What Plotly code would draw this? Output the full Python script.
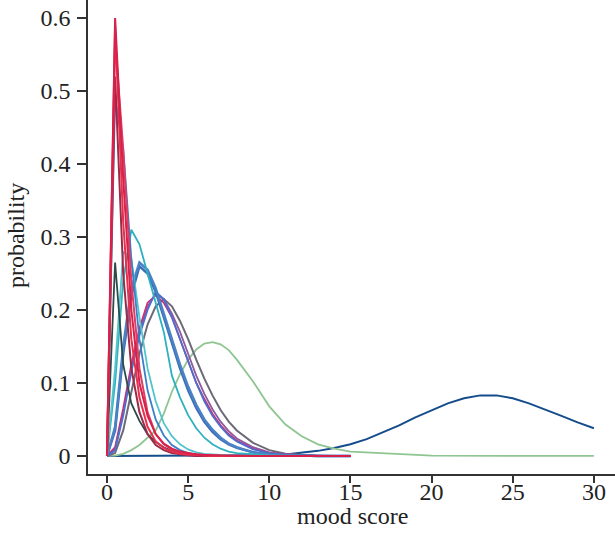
import plotly.graph_objects as go

# shared x grid for the short-range curves
xs = [0, 0.5, 1, 1.5, 2, 2.5, 3, 3.5, 4, 4.5, 5, 5.5, 6, 6.5, 7, 7.5, 8,
      9, 10, 11, 12, 13, 14, 15]
xs_green = xs + [20, 30]

# long-range curve (own grid)
xs_navy = list(range(0, 31))
navy = [0, 0, 0, 0, 0, 0, 0, 0, 0.0002, 0.0005, 0.001, 0.002, 0.004, 0.007,
        0.011, 0.016, 0.023, 0.032, 0.042, 0.053, 0.063, 0.072, 0.079, 0.083,
        0.083, 0.079, 0.072, 0.064, 0.055, 0.046, 0.038]

green = [0, 0.0005, 0.003, 0.008, 0.015, 0.025, 0.035, 0.058, 0.088, 0.112,
         0.132, 0.146, 0.154, 0.156, 0.153, 0.145, 0.132, 0.102, 0.068, 0.043,
         0.027, 0.016, 0.010, 0.006, 0.0005, 0]
gray = [0, 0.004, 0.035, 0.09, 0.14, 0.18, 0.205, 0.215, 0.205, 0.185, 0.16,
        0.132, 0.106, 0.083, 0.063, 0.047, 0.035, 0.018, 0.008, 0.003, 0.001,
        0, 0, 0]
purple = [0, 0.01, 0.06, 0.12, 0.17, 0.205, 0.222, 0.215, 0.195, 0.17, 0.14,
          0.11, 0.085, 0.064, 0.047, 0.034, 0.024, 0.012, 0.005, 0.002, 0.001,
          0, 0, 0]
magenta = [0, 0.012, 0.065, 0.125, 0.175, 0.21, 0.22, 0.21, 0.19, 0.16, 0.13,
           0.10, 0.078, 0.058, 0.042, 0.030, 0.021, 0.010, 0.004, 0.002, 0.001,
           0, 0, 0]
blue_d = [0, 0.008, 0.055, 0.115, 0.165, 0.20, 0.225, 0.215, 0.19, 0.16, 0.13,
          0.10, 0.075, 0.055, 0.040, 0.028, 0.020, 0.009, 0.004, 0.001, 0,
          0, 0, 0]
blue_b = [0, 0.04, 0.15, 0.23, 0.265, 0.255, 0.23, 0.195, 0.16, 0.125, 0.095,
          0.07, 0.05, 0.036, 0.025, 0.017, 0.012, 0.005, 0.002, 0.001, 0,
          0, 0, 0]
blue_c = [0, 0.035, 0.14, 0.22, 0.26, 0.25, 0.225, 0.19, 0.155, 0.12, 0.09,
          0.066, 0.047, 0.033, 0.023, 0.016, 0.011, 0.005, 0.002, 0.001, 0,
          0, 0, 0]
cyan_a = [0, 0.10, 0.24, 0.31, 0.29, 0.25, 0.21, 0.17, 0.11, 0.08, 0.056,
          0.038, 0.025, 0.016, 0.010, 0.006, 0.004, 0.002, 0.001, 0, 0,
          0, 0, 0]
cyan_b = [0, 0.12, 0.28, 0.27, 0.19, 0.12, 0.075, 0.045, 0.027, 0.016, 0.009,
          0.005, 0.003, 0.002, 0.001, 0, 0, 0, 0, 0, 0, 0, 0, 0]
blue_a = [0, 0.49, 0.42, 0.27, 0.16, 0.09, 0.05, 0.028, 0.015, 0.008, 0.004,
          0.002, 0.001, 0, 0, 0, 0, 0, 0, 0, 0, 0, 0, 0]
dark = [0, 0.265, 0.125, 0.072, 0.048, 0.030, 0.019, 0.012, 0.007, 0.004,
        0.002, 0.001, 0, 0, 0, 0, 0, 0, 0, 0, 0, 0, 0, 0]
maroon = [0, 0.52, 0.25, 0.12, 0.06, 0.03, 0.015, 0.008, 0.004, 0.002, 0.001,
          0, 0, 0, 0, 0, 0, 0, 0, 0, 0, 0, 0, 0]
red_c = [0, 0.57, 0.42, 0.24, 0.12, 0.06, 0.03, 0.016, 0.009, 0.005, 0.003,
         0.002, 0.001, 0, 0, 0, 0, 0, 0, 0, 0, 0, 0, 0]
red_b = [0, 0.59, 0.32, 0.16, 0.08, 0.04, 0.02, 0.011, 0.006, 0.003, 0.002,
         0.001, 0, 0, 0, 0, 0, 0, 0, 0, 0, 0, 0, 0]
red_a = [0, 0.60, 0.38, 0.20, 0.10, 0.055, 0.03, 0.017, 0.010, 0.006, 0.004,
         0.002, 0.0015, 0.001, 0.0006, 0.0004, 0.0003, 0.0001, 0, 0, 0,
         0, 0, 0]

x_ticks = [0, 5, 10, 15, 20, 25, 30]
y_ticks = [0, 0.1, 0.2, 0.3, 0.4, 0.5, 0.6]
y_ticktext = ["0", "0.1", "0.2", "0.3", "0.4", "0.5", "0.6"]

# (name, y values, colour, width) in drawing order
curves = [
    ("gray", gray, "#6d6a78", 2),
    ("purple", purple, "#8a5c9e", 1.8),
    ("magenta", magenta, "#c7337c", 1.8),
    ("blue_d", blue_d, "#4a6fcf", 1.8),
    ("blue_c", blue_c, "#3d6fb8", 2.5),
    ("blue_b", blue_b, "#4a82c6", 2.5),
    ("cyan_a", cyan_a, "#2eb1bf", 1.8),
    ("cyan_b", cyan_b, "#52c4cc", 1.8),
    ("blue_a", blue_a, "#3a7fc8", 1.8),
    ("dark", dark, "#2f4a4c", 1.8),
    ("maroon", maroon, "#9c2a4a", 2),
    ("red_c", red_c, "#dc3f66", 2),
    ("red_b", red_b, "#e8304c", 2),
    ("red_a", red_a, "#d8204a", 2),
]

fig = go.Figure()
fig.add_trace(go.Scatter(x=xs_navy, y=navy, mode="lines",
                         line=dict(color="#154c8c", width=2)))
fig.add_trace(go.Scatter(x=xs_green, y=green, mode="lines",
                         line=dict(color="#8fc591", width=1.8)))
for name, ys, color, w in curves:
    fig.add_trace(go.Scatter(x=xs, y=ys, mode="lines", name=name,
                             line=dict(color=color, width=w)))

axis_font = dict(family="Liberation Serif", size=24, color="#222")

fig.update_layout(
    width=615, height=542,
    margin=dict(l=88, r=0, t=0, b=68),
    plot_bgcolor="white", paper_bgcolor="white",
    showlegend=False,
    font=axis_font,
)
fig.update_xaxes(
    range=[-1.17, 31.3], tickvals=x_ticks,
    showline=True, linecolor="#333", linewidth=1.5,
    ticks="outside", ticklen=7, tickwidth=1.5, tickcolor="#333",
    showgrid=False, zeroline=False, tickfont=axis_font, automargin=False,
    ticklabelstandoff=-12, ticklabeloverflow="allow",
)
fig.update_yaxes(
    range=[-0.0247, 0.6247], tickvals=y_ticks, ticktext=y_ticktext,
    showline=True, linecolor="#333", linewidth=1.5,
    ticks="outside", ticklen=9, tickwidth=1.5, tickcolor="#333",
    showgrid=False, zeroline=False, tickfont=axis_font, automargin=False,
    ticklabelstandoff=2, ticklabeloverflow="allow",
)

fig.add_annotation(text="mood score", xref="paper", yref="paper",
                   x=0.501, y=0, yanchor="middle", yshift=-42,
                   showarrow=False, font=axis_font)
fig.add_annotation(text="probability", xref="paper", yref="paper",
                   x=0, y=0.502, xanchor="center", xshift=-72,
                   textangle=-90, showarrow=False, font=axis_font)

# drop the default body margin so the figure fills the window exactly
fig.write_html("out.html", config={"displayModeBar": False},
               post_script="document.body.style.margin = '0px';")
